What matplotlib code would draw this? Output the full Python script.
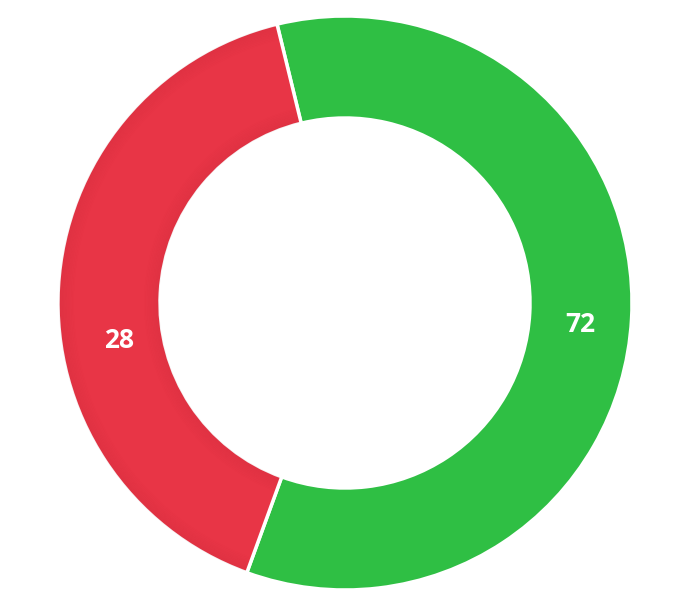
import matplotlib
matplotlib.use('Agg')
import matplotlib.pyplot as plt
from matplotlib.patches import Wedge
import numpy as np

# slice sizes as drawn (degrees of arc), labels as printed on the ring
names = ['green', 'red']
shares = [213.7, 146.3]
labels = ['72', '28']
colors = ['#2fbf44', '#e83546']

# label angles (deg) and radii (px)
label_angles = [-5.3, 189.3]
label_radii = [236, 229]

W, H = 679, 604
cx, cy = 345, H - 303
r_out, r_in = 287, 185
start = 103.7

fig = plt.figure(figsize=(W / 100, H / 100), dpi=100)
ax = fig.add_axes([0, 0, 1, 1])
ax.set_aspect('equal')
ax.axis('off')

wedges, _ = ax.pie(shares, colors=colors, startangle=start, counterclock=False,
                   center=(cx, cy), radius=r_out,
                   wedgeprops=dict(width=r_out - r_in, edgecolor='white', linewidth=2.5))

# soft darker rim on the red slice (inner shadow look)
red = wedges[1]
th1, th2 = red.theta1, red.theta2
for k in range(10):
    d = k * 1.5
    a = 0.07 * (1 - k / 10)
    ax.add_patch(Wedge((cx, cy), r_out - 1 - d, th1 + 0.5, th2 - 0.5, width=1.5,
                       color='#7a0c1a', alpha=a, lw=0))
    ax.add_patch(Wedge((cx, cy), r_in + d + 2.5, th1 + 0.5, th2 - 0.5, width=1.5,
                       color='#7a0c1a', alpha=a, lw=0))

for a, rr, t in zip(label_angles, label_radii, labels):
    x = cx + rr * np.cos(np.radians(a))
    y = cy + rr * np.sin(np.radians(a))
    ax.text(x, y, t, color='white', fontsize=19, fontweight='bold',
            family=['Open Sans', 'DejaVu Sans'], ha='center', va='center')

ax.set_xlim(0, W)
ax.set_ylim(0, H)
fig.savefig('out.png', dpi=100)
